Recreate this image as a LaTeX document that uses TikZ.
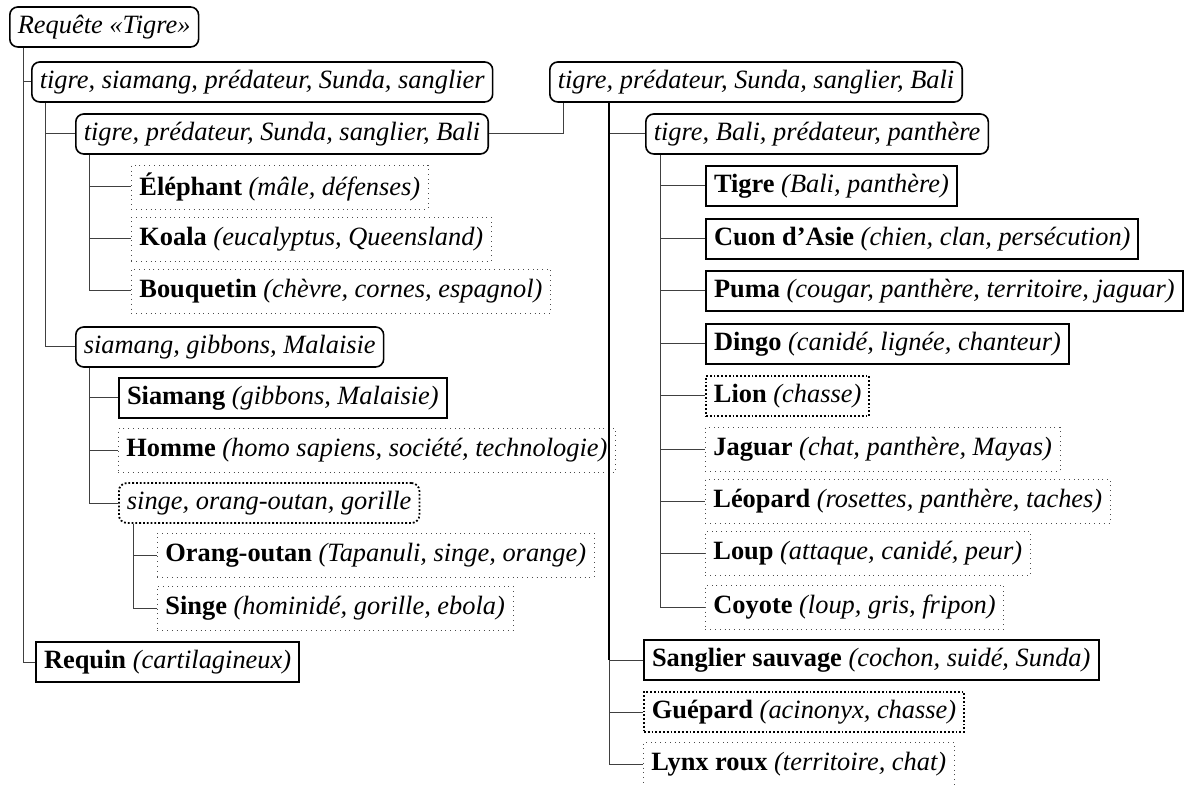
\documentclass[tikz,border=0pt]{standalone}
\usepackage{fontspec}
\setmainfont{Liberation Serif}

\tikzset{
	every node/.style={anchor=west,inner xsep=4pt,inner ysep=0pt,minimum height=20pt,font=\fontsize{13.2}{15}\selectfont},
	grp/.style={draw,rounded corners=4pt,line width=0.8pt,font=\fontsize{13.2}{15}\selectfont\itshape},
	grpweak/.style={draw,rounded corners=4pt,densely dotted,line width=0.9pt,font=\fontsize{13.2}{15}\selectfont\itshape},
	hit/.style={draw,line width=1pt},
	hitclose/.style={draw,densely dotted,line width=0.9pt},
	hitweak/.style={draw,dotted,line width=0.4pt,draw=black!70,minimum height=22pt},
	link/.style={draw=black!75,line width=0.5pt},
	trunk/.style={draw=black,line width=0.8pt}
}

\begin{document}
\begin{tikzpicture}[x=0.5pt,y=-0.5pt]
	\useasboundingbox (0,0) rectangle (1192,785);
	% left part
	\node[grp] (root) at (9,27) {Requête «Tigre»};
	\node[grp] (tsps) at (31,82) {tigre, siamang, prédateur, Sunda, sanglier};
	\node[grp] (tpsb) at (75,134) {tigre, prédateur, Sunda, sanglier, Bali};
	\node[hitweak] (elephant) at (131,187) {\textbf{Éléphant} \textit{(mâle, défenses)}};
	\node[hitweak] (koala) at (131,239) {\textbf{Koala} \textit{(eucalyptus, Queensland)}};
	\node[hitweak] (bouquetin) at (131,291) {\textbf{Bouquetin} \textit{(chèvre, cornes, espagnol)}};
	\node[grp] (sgm) at (75,347) {siamang, gibbons, Malaisie};
	\node[hit] (siamang) at (118,398) {\textbf{Siamang} \textit{(gibbons, Malaisie)}};
	\node[hitweak] (homme) at (118,450) {\textbf{Homme} \textit{(homo sapiens, société, technologie)}};
	\node[grpweak] (sog) at (118,503) {singe, orang-outan, gorille};
	\node[hitweak] (orang) at (157,555) {\textbf{Orang-outan} \textit{(Tapanuli, singe, orange)}};
	\node[hitweak] (singe) at (157,608) {\textbf{Singe} \textit{(hominidé, gorille, ebola)}};
	\node[hit] (requin) at (35,662) {\textbf{Requin} \textit{(cartilagineux)}};
	% right part
	\node[grp] (tpsb2) at (549,82) {tigre, prédateur, Sunda, sanglier, Bali};
	\node[grp] (tbpp) at (645,134) {tigre, Bali, prédateur, panthère};
	\node[hit] (tigre) at (705,186) {\textbf{Tigre} \textit{(Bali, panthère)}};
	\node[hit] (cuon) at (705,239) {\textbf{Cuon d’Asie} \textit{(chien, clan, persécution)}};
	\node[hit] (puma) at (705,291) {\textbf{Puma} \textit{(cougar, panthère, territoire, jaguar)}};
	\node[hit] (dingo) at (705,344) {\textbf{Dingo} \textit{(canidé, lignée, chanteur)}};
	\node[hitclose] (lion) at (705,396) {\textbf{Lion} \textit{(chasse)}};
	\node[hitweak] (jaguar) at (705,449) {\textbf{Jaguar} \textit{(chat, panthère, Mayas)}};
	\node[hitweak] (leopard) at (705,501) {\textbf{Léopard} \textit{(rosettes, panthère, taches)}};
	\node[hitweak] (loup) at (705,553) {\textbf{Loup} \textit{(attaque, canidé, peur)}};
	\node[hitweak] (coyote) at (705,607) {\textbf{Coyote} \textit{(loup, gris, fripon)}};
	\node[hit] (sanglier) at (643,660) {\textbf{Sanglier sauvage} \textit{(cochon, suidé, Sunda)}};
	\node[hitclose] (guepard) at (643,712) {\textbf{Guépard} \textit{(acinonyx, chasse)}};
	\node[hitweak] (lynx) at (643,764) {\textbf{Lynx roux} \textit{(territoire, chat)}};

	% connectors
	\foreach \c in {tsps,requin}
		\draw[link] ([xshift=7pt]root.south west) |- (\c.west);
	\foreach \c in {tpsb,sgm}
		\draw[link] ([xshift=7pt]tsps.south west) |- (\c.west);
	\foreach \c in {elephant,koala,bouquetin}
		\draw[link] ([xshift=7pt]tpsb.south west) |- (\c.west);
	\foreach \c in {siamang,homme,sog}
		\draw[link] ([xshift=7pt]sgm.south west) |- (\c.west);
	\foreach \c in {orang,singe}
		\draw[link] ([xshift=7.5pt]sog.south west) |- (\c.west);
	\draw[link] (tpsb.east) -| ([xshift=7pt]tpsb2.south west);
	\foreach \c in {tbpp,sanglier,guepard,lynx}
		\draw[link] ([xshift=30pt]tpsb2.south west) |- (\c.west);
	\draw[trunk] ([xshift=30pt]tpsb2.south west) -- ([xshift=30pt]tpsb2.south west |- sanglier.west);
	\foreach \c in {tigre,cuon,puma,dingo,lion,jaguar,leopard,loup,coyote}
		\draw[link] ([xshift=7.5pt]tbpp.south west) |- (\c.west);
\end{tikzpicture}
\end{document}
